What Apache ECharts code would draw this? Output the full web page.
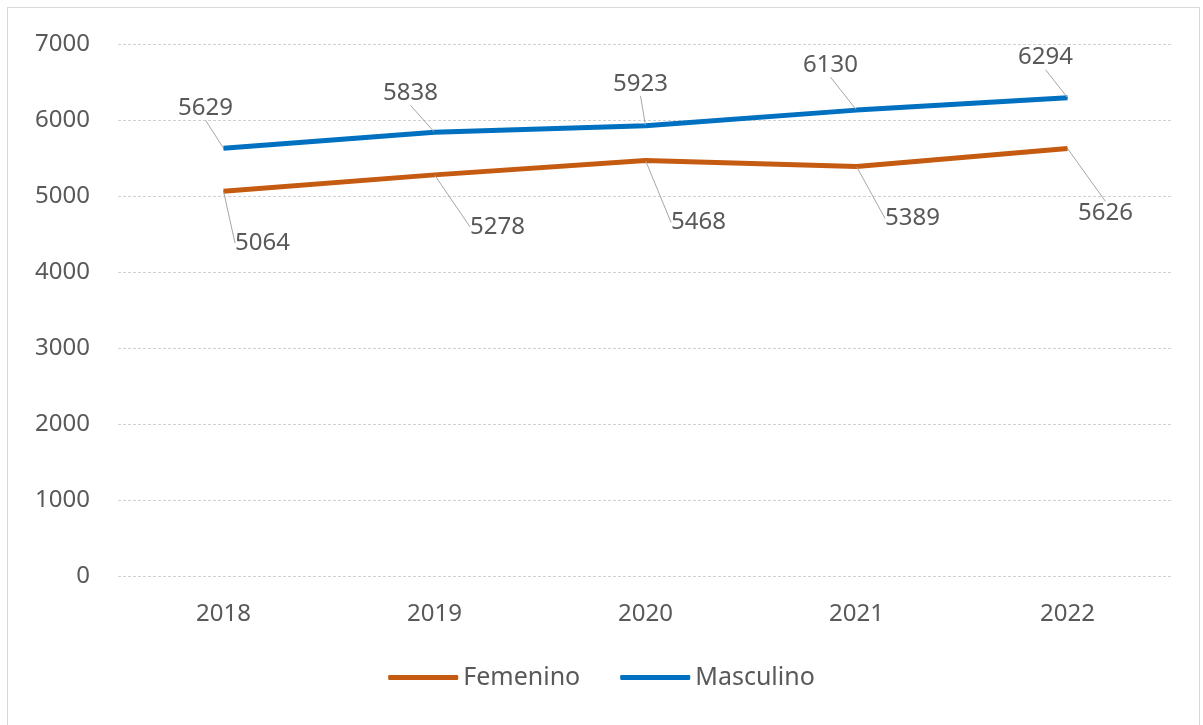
<!DOCTYPE html>
<html>
<head>
<meta charset="utf-8">
<script src="https://cdn.jsdelivr.net/npm/echarts@6/dist/echarts.min.js"></script>
<style>
    html, body { margin: 0; padding: 0; background: #fff; }
    #frame { position: absolute; left: 7px; top: 7px; width: 1193px; height: 730px; border: 1px solid #d9d9d9; box-sizing: border-box; }
    #chart { position: absolute; left: 0; top: 0; width: 1203px; height: 725px; }
</style>
</head>
<body>
<div id="frame"></div>
<div id="chart"></div>
<script>
// datos
var years = ['2018', '2019', '2020', '2021', '2022'];
var femenino = [5064, 5278, 5468, 5389, 5626];
var masculino = [5629, 5838, 5923, 6130, 6294];

// desplazamiento de etiquetas (px) respecto al punto
var offsetsFem = [[39, 52], [63, 52], [53, 62], [56, 52], [38, 65]];
var offsetsMas = [[-18, -40], [-24, -39], [-5, -42], [-26, -45], [-22, -40]];

var textColor = '#595959';
var fontFamily = '"Noto Sans", sans-serif';

function makeSeries(name, data, color, offsets) {
    return {
        name: name,
        type: 'line',
        data: data,
        symbol: 'circle',
        symbolSize: 1,
        showSymbol: true,
        lineStyle: {color: color, width: 5},
        itemStyle: {color: color},
        label: {
            show: true,
            position: 'inside',
            color: textColor,
            fontSize: 24,
            fontFamily: fontFamily
        },
        labelLine: {
            show: true,
            lineStyle: {color: '#a6a6a6', width: 1}
        },
        labelLayout: function (params) {
            var o = offsets[params.dataIndex];
            return {dx: o[0], dy: o[1]};
        },
        emphasis: {disabled: true},
        animation: false
    };
}

var chart = echarts.init(document.getElementById('chart'));
chart.setOption({
    animation: false,
    grid: {left: 118, right: 30, top: 44, bottom: 149},
    legend: {
        bottom: 30,
        left: 'center',
        itemWidth: 70,
        itemHeight: 5,
        itemGap: 40,
        icon: 'roundRect',
        textStyle: {color: textColor, fontSize: 25, fontFamily: fontFamily},
        data: ['Femenino', 'Masculino']
    },
    xAxis: {
        type: 'category',
        data: years,
        axisLine: {show: false},
        axisTick: {show: false},
        axisLabel: {color: textColor, fontSize: 24, fontFamily: fontFamily, margin: 26}
    },
    yAxis: {
        type: 'value',
        min: 0,
        max: 7000,
        interval: 1000,
        axisLabel: {
            color: textColor, fontSize: 24, fontFamily: fontFamily, margin: 28,
            formatter: function (v) { return String(v); }
        },
        splitLine: {lineStyle: {color: '#d0d0d0', type: [3, 2], width: 1}}
    },
    series: [
        makeSeries('Femenino', femenino, '#C55A11', offsetsFem),
        makeSeries('Masculino', masculino, '#0070C0', offsetsMas)
    ]
});
</script>
</body>
</html>
